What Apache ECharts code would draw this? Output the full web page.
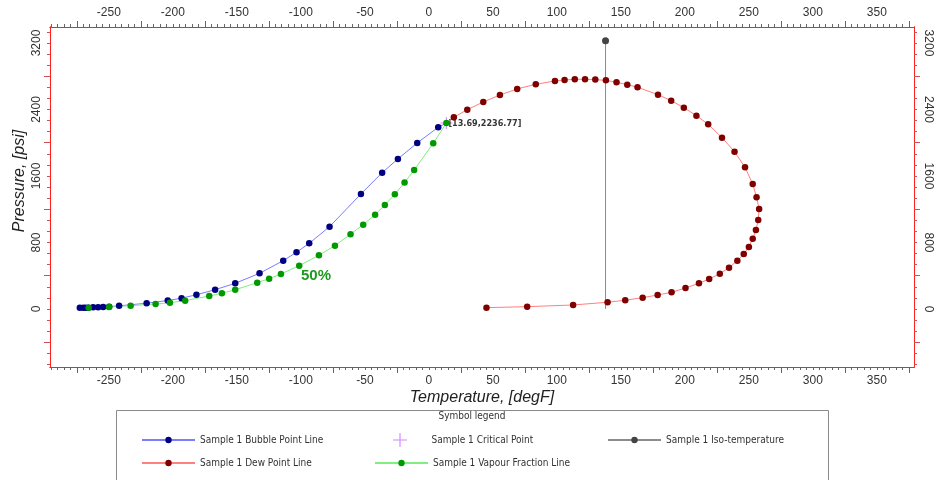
<!DOCTYPE html>
<html>
<head>
<meta charset="utf-8">
<script src="https://cdn.jsdelivr.net/npm/echarts@6/dist/echarts.min.js"></script>
<style>
  html, body { margin: 0; padding: 0; background: #ffffff; }
  #chart { width: 941px; height: 480px; }
</style>
</head>
<body>
<div id="chart"></div>
<script>
// Phase envelope of Sample 1: temperature (degF) against pressure (psi)

// Bubble point line, from the cold end up to the critical point
const bubbleT = [-272.7, -270, -268, -266, -262.3, -258.4, -254.5, -249.8, -242, -220.5, -204, -193.2, -181.6, -167, -151.3, -132.3, -113.8, -103.4, -93.5, -77.6, -53.1, -36.5, -24.2, -9.1, 7.3];
const bubbleP = [16, 16, 16, 16, 20, 20, 24, 28, 38, 69, 102, 130, 171, 232, 309, 429, 581, 682, 790, 990, 1383, 1640, 1805, 1997, 2186];

// Dew point line, from the critical point round to the low-pressure end
const dewT = [19.5, 30, 42.5, 55.5, 69, 83.5, 98.5, 106, 114, 122, 130, 138.3, 146.6, 155, 163, 179, 189.3, 199.2, 209, 218.2, 229, 238.8, 247, 253, 256, 258, 257.3, 255.5, 253, 250, 246, 241, 234.5, 227.3, 219, 211, 200.5, 189.6, 178.7, 167, 153.4, 139.6, 112.7, 76.8, 45];
const dewP = [2306, 2398, 2490, 2574, 2647, 2703, 2743, 2755, 2763, 2763, 2759, 2750, 2727, 2698, 2667, 2578, 2506, 2422, 2325, 2222, 2061, 1892, 1705, 1502, 1344, 1203, 1071, 950, 846, 746, 662, 581, 497, 425, 361, 309, 253, 201, 168, 136, 105, 81, 48, 28, 16];

// 50 % vapour fraction line
const vapourT = [-265.8, -249.8, -233, -213.5, -202.3, -190.4, -171.6, -161.7, -151.3, -134.1, -124.8, -115.6, -101.3, -85.9, -73.4, -61.2, -51.3, -42, -34.4, -26.6, -19, -11.5, 3.4];
const vapourP = [16, 24, 40, 60, 75, 100, 156, 189, 232, 316, 365, 421, 521, 646, 762, 899, 1014, 1134, 1251, 1380, 1520, 1672, 1993];
const vapourLabelIndex = 12;
const vapourLabel = '50%';

// Critical point
const critical = [13.69, 2236.77];

// Iso-temperature line
const isoT = [138, 138];
const isoP = [0, 3228];

// Axis labels
const xLabelValues = [-250, -200, -150, -100, -50, 0, 50, 100, 150, 200, 250, 300, 350];
const yLabelValues = [0, 800, 1600, 2400, 3200];

const xMin = -296, xMax = 379;
const yMin = -698, yMax = 3392;

const xTicks = [];
for (let v = -295; v <= 375; v += 5) xTicks.push(v);
const xLongTicks = [];
for (let v = -275; v <= 375; v += 50) xLongTicks.push(v);
const yTicks = [];
for (let k = -5; k <= 25; k++) yTicks.push(k * 800 / 6);
const yLongTicks = [-400, 400, 1200, 2000, 2800];

const narrow = "'Liberation Sans Narrow', 'Arial Narrow', 'DejaVu Sans Condensed', sans-serif";
const sans = "'Liberation Sans', Arial, sans-serif";
const plusPath = 'path://M-0.8,-10 L0.8,-10 L0.8,10 L-0.8,10 Z M-10,-0.8 L10,-0.8 L10,0.8 L-10,0.8 Z';

function pairs(xs, ys) { return xs.map((x, i) => [x, ys[i]]); }
const plain = v => String(Math.round(v));

function makeXAxis(position, labels, ticks, tickLen, withName) {
  const ax = {
    type: 'value', position: position, min: xMin, max: xMax,
    axisLine: { show: true, onZero: false, lineStyle: { color: '#ff2020', width: 1 } },
    axisTick: { show: true, customValues: ticks, length: tickLen, inside: false, lineStyle: { color: '#666', width: 1 } },
    axisLabel: labels ? { show: true, customValues: labels, formatter: plain, margin: 8, fontSize: 12, color: '#333', fontFamily: sans } : { show: false },
    splitLine: { show: false }
  };
  if (withName) {
    ax.name = 'Temperature, [degF]';
    ax.nameLocation = 'middle';
    ax.nameGap = 23;
    ax.nameMoveOverlap = false;
    ax.nameTextStyle = { fontSize: 16, fontStyle: 'italic', color: '#222', fontFamily: sans };
  }
  return ax;
}

function makeYAxis(position, labels, ticks, tickLen, withName) {
  const ax = {
    type: 'value', position: position, min: yMin, max: yMax,
    axisLine: { show: true, onZero: false, lineStyle: { color: '#ff2020', width: 1 } },
    axisTick: { show: true, customValues: ticks, length: tickLen, inside: false, lineStyle: { color: '#d05050', width: 1 } },
    axisLabel: labels ? { show: true, customValues: labels, formatter: plain, margin: position === 'left' ? 7 : 8, rotate: position === 'left' ? 90 : -90, fontSize: 12, color: '#333', fontFamily: sans } : { show: false },
    splitLine: { show: false }
  };
  if (withName) {
    ax.name = 'Pressure, [psi]';
    ax.nameLocation = 'middle';
    ax.nameGap = 22;
    ax.nameMoveOverlap = false;
    ax.nameTextStyle = { fontSize: 16, fontStyle: 'italic', color: '#222', fontFamily: sans, padding: [0, 0, 0, 32] };
  }
  return ax;
}

const lineCommon = {
  type: 'line', symbol: 'circle', symbolSize: 6.5, showAllSymbol: true,
  xAxisIndex: 0, yAxisIndex: 0, animation: false,
  emphasis: { disabled: true }
};

const bubbleData = pairs(bubbleT, bubbleP);
bubbleData.push({ value: critical, symbol: 'none' });

const dewData = [{ value: critical, symbol: 'none' }].concat(pairs(dewT, dewP));

const vapourData = pairs(vapourT, vapourP).map((p, i) => i === vapourLabelIndex ? {
  value: p,
  label: { show: true, position: [5, 6], formatter: vapourLabel, color: '#1f9a1f', fontSize: 15, fontWeight: 'bold', fontFamily: sans, align: 'left', verticalAlign: 'top' }
} : p);
vapourData.push(critical);

const isoData = [{ value: [isoT[0], isoP[0]], symbol: 'none' }, [isoT[1], isoP[1]]];

const legendBase = {
  padding: 0, selectedMode: false, orient: 'horizontal', itemWidth: 53, itemHeight: 8,
  textStyle: { fontSize: 10, color: '#333', fontFamily: narrow, lineHeight: 14 }
};

const option = {
  animation: false,
  backgroundColor: '#ffffff',
  grid: { left: 50, right: 27, top: 27, bottom: 113 },
  xAxis: [
    makeXAxis('bottom', xLabelValues, xTicks, 3, true),
    makeXAxis('top', xLabelValues, xTicks, 3, false),
    makeXAxis('bottom', null, xLongTicks, 6, false),
    makeXAxis('top', null, xLongTicks, 6, false)
  ],
  yAxis: [
    makeYAxis('left', yLabelValues, yTicks, 3, true),
    makeYAxis('right', yLabelValues, yTicks, 3, false),
    makeYAxis('left', null, yLongTicks, 6, false),
    makeYAxis('right', null, yLongTicks, 6, false)
  ],
  legend: [
    Object.assign({}, legendBase, { data: ['Sample 1 Bubble Point Line'], left: 141, top: 433 }),
    // the cross icon is narrower than the item box, so the box starts (53 - 14) / 2 px further left
    Object.assign({}, legendBase, { data: [{ name: 'Sample 1 Critical Point', icon: plusPath }], left: 393, top: 433, itemHeight: 14 }),
    Object.assign({}, legendBase, { data: ['Sample 1 Iso-temperature'], left: 607, top: 433 }),
    Object.assign({}, legendBase, { data: ['Sample 1 Dew Point Line'], left: 141, top: 456 }),
    Object.assign({}, legendBase, { data: ['Sample 1 Vapour Fraction Line'], left: 374, top: 456 })
  ],
  graphic: [
    { type: 'rect', shape: { x: 116.5, y: 410.5, width: 712, height: 90 }, style: { fill: 'none', stroke: '#8a8a8a', lineWidth: 1 }, silent: true },
    { type: 'text', x: 472, y: 416, style: { text: 'Symbol legend', fontSize: 10, fontFamily: narrow, fill: '#333', align: 'center', verticalAlign: 'middle' }, silent: true }
  ],
  series: [
    Object.assign({}, lineCommon, {
      name: 'Sample 1 Dew Point Line', data: dewData,
      lineStyle: { color: '#ff8080', width: 1 }, itemStyle: { color: '#800000' }
    }),
    Object.assign({}, lineCommon, {
      name: 'Sample 1 Bubble Point Line', data: bubbleData,
      lineStyle: { color: '#7c7cff', width: 1 }, itemStyle: { color: '#000080' }
    }),
    Object.assign({}, lineCommon, {
      name: 'Sample 1 Vapour Fraction Line', data: vapourData,
      lineStyle: { color: '#80ee80', width: 1 }, itemStyle: { color: '#009a00' }
    }),
    Object.assign({}, lineCommon, {
      name: 'Sample 1 Iso-temperature', data: isoData, symbolSize: 7,
      lineStyle: { color: '#8c8c8c', width: 1 }, itemStyle: { color: '#444444' }
    }),
    {
      name: 'Sample 1 Critical Point', type: 'scatter', data: [critical],
      symbol: plusPath, symbolSize: 12, animation: false,
      itemStyle: { color: '#cc66ff' }, emphasis: { disabled: true },
      label: {
        show: true, position: 'right', distance: -4, offset: [0, 1],
        formatter: p => '[' + p.value[0] + ',' + p.value[1] + ']',
        color: '#000', fontSize: 9, fontWeight: 'bold', fontFamily: narrow
      }
    }
  ]
};

const chart = echarts.init(document.getElementById('chart'), null, { renderer: 'canvas' });
chart.setOption(option);
</script>
</body>
</html>
